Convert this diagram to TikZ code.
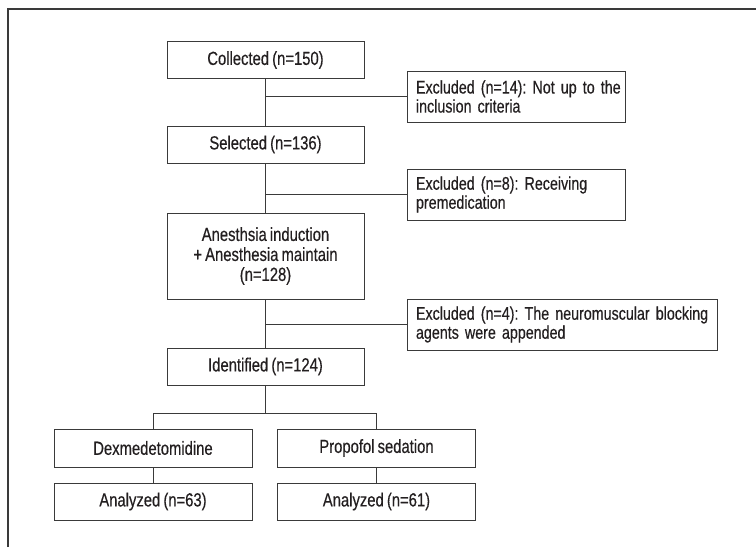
\documentclass[tikz,border=0pt]{standalone}
\usepackage{fontspec}
\setmainfont{Liberation Sans}[FakeStretch=0.78, WordSpace=0.75, FakeBold=0.4]
\usepackage{xcolor}
\usepackage{tikz}
\usetikzlibrary{positioning,calc}
\definecolor{ink}{HTML}{231F20}
\definecolor{rule}{HTML}{3A3A3A}
\frenchspacing

\begin{document}
\begin{tikzpicture}[x=1pt, y=-1pt,
    box/.style={draw=rule, line width=0.9pt, text=ink, minimum width=197, minimum height=37, align=center, inner sep=0pt, font=\fontsize{19}{20}\selectfont},
    exbox/.style={draw=rule, line width=0.9pt, text=ink, minimum height=51, align=left, inner xsep=9pt, inner ysep=0pt, font=\fontsize{18.3}{19}\selectfont},
    link/.style={draw=rule, line width=0.9pt}]
  \useasboundingbox (0,0) rectangle (756,547);
  \def\split{413}

  % outer frame
  \draw[rule, line width=1.2pt] (8,547) -- (8,9) -- (756,9);

  % main column
  \node[box] (coll) at (265.5,60) {Collected (n=150)};
  \node[box] (sel) at (265.5,144.5) {Selected (n=136)};
  \node[box, minimum height=86] (anes) at (265.5,256) {Anesthsia induction\\+ Anesthesia maintain\\(n=128)};
  \node[box] (ident) at (265.5,366.5) {Identified (n=124)};

  % exclusions
  \node[exbox, text width=200] (ex1) at (516,96.5) {\mbox{Excluded (n=14): Not up to the}\\\mbox{inclusion criteria}};
  \node[exbox, text width=200] (ex2) at (516,194.5) {\mbox{Excluded (n=8): Receiving}\\\mbox{premedication}};
  \node[exbox, text width=292] (ex3) at (562,324.5) {\mbox{Excluded (n=4): The neuromuscular blocking}\\\mbox{agents were appended}};

  % groups
  \node[box, minimum width=198, minimum height=38] (dex) at (153,448) {Dexmedetomidine};
  \node[box, minimum width=198, minimum height=38] (prop) at (376.5,448) {Propofol sedation};
  \node[box, minimum width=198] (andex) at (153,501.5) {Analyzed (n=63)};
  \node[box, minimum width=198] (anprop) at (376.5,501.5) {Analyzed (n=61)};

  \draw[link] (coll) -- (sel);
  \draw[link] (sel) -- (anes);
  \draw[link] (anes) -- (ident);
  \draw[link] (ex1.west) -- (ex1.west -| coll.south);
  \draw[link] (ex2.west) -- (ex2.west -| sel.south);
  \draw[link] (ex3.west) -- (ex3.west -| anes.south);

  \draw[link] (ident.south) -- (ident.south |- 0,\split);
  \draw[link] (dex.north) |- (prop.north |- 0,\split) -- (prop.north);
  \draw[link] (dex) -- (andex);
  \draw[link] (prop) -- (anprop);
\end{tikzpicture}
\end{document}
